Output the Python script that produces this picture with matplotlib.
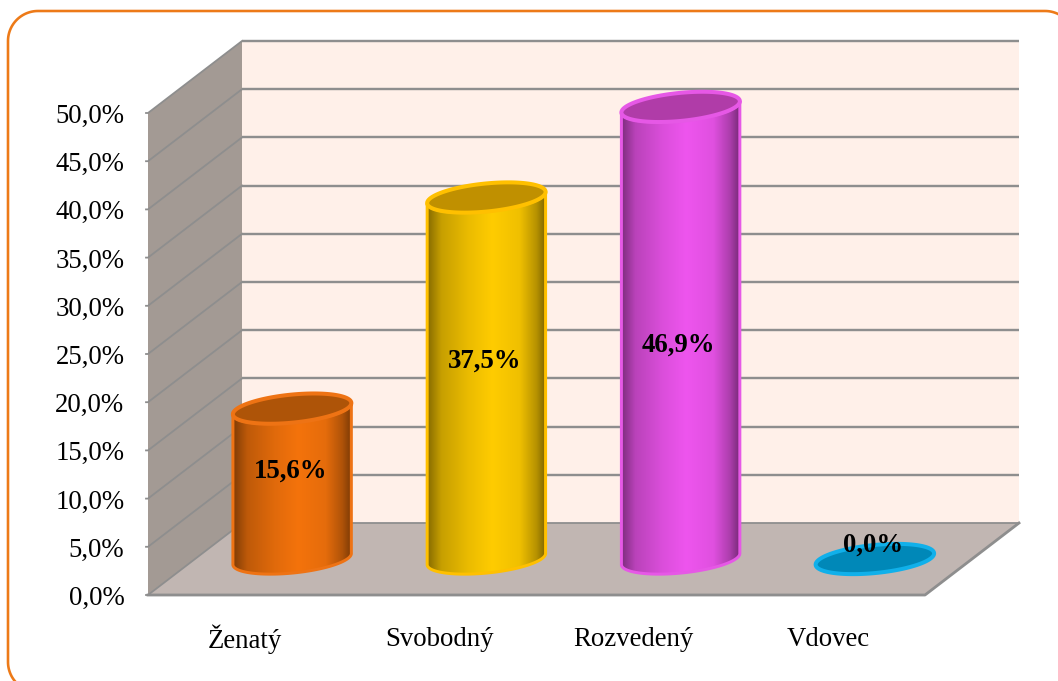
import numpy as np
import matplotlib
matplotlib.use('Agg')
import matplotlib.pyplot as plt
from matplotlib.colors import LinearSegmentedColormap, to_rgb
from matplotlib.patches import Polygon

categories = ['Ženatý', 'Svobodný', 'Rozvedený', 'Vdovec']
values = [15.6, 37.5, 46.9, 0.0]
value_labels = ['15,6%', '37,5%', '46,9%', '0,0%']
y_ticks = [0, 5, 10, 15, 20, 25, 30, 35, 40, 45, 50]
y_tick_labels = ['0,0%', '5,0%', '10,0%', '15,0%', '20,0%', '25,0%', '30,0%',
                 '35,0%', '40,0%', '45,0%', '50,0%']
body_colors = ['#F4730C', '#FFCC00', '#EE55EE', '#0088B8']
top_colors = ['#AE5408', '#C09000', '#B03CA8', '#0088B8']
edge_colors = ['#EE7314', '#FFC000', '#E658E6', '#10B0EA']

label_heights = [12.8, 24.3, 25.9, 5.2]

W, H = 1058, 681
X0, X1 = 148, 925
Y0, Y50 = 595, 113
PX_X = (X1 - X0) / len(categories)   # pixels per category
PX_Y = (Y0 - Y50) / 50.0             # pixels per percent
DEPTH_X = 94 / PX_X
DEPTH_Y = 72 / PX_Y

plt.rcParams['font.family'] = ['Liberation Serif', 'DejaVu Serif']

fig = plt.figure(figsize=(W / 100, H / 100), dpi=100)
ax = fig.add_axes([0, 0, 1, 1])
xlim = (-X0 / PX_X, (W - X0) / PX_X)
ylim = (-(H - Y0) / PX_Y, Y0 / PX_Y)
ax.axis('off')


def px(width):
    return width * 72 / 100


# orange frame, partly cut off by the image edge
t = np.linspace(0, np.pi / 2, 30)
r = 30
fx, fy = [], []
for cx, cy, start in [(1075 - r, 11 + r, 0), (8 + r, 11 + r, 1), (8 + r, 692 - r, 2), (1075 - r, 692 - r, 3)]:
    a = t + start * np.pi / 2
    fx.extend(cx + r * np.cos(a))
    fy.extend(cy - r * np.sin(a))
ax.add_patch(Polygon(np.column_stack([(np.array(fx) - X0) / PX_X, (Y0 - np.array(fy)) / PX_Y]),
                     closed=True, fill=False, edgecolor='#ED7A18', lw=px(2.6), zorder=1))

n = len(categories)
top = y_ticks[-1]

# walls and floor
ax.add_patch(Polygon([(DEPTH_X, DEPTH_Y), (n + DEPTH_X, DEPTH_Y), (n + DEPTH_X, top + DEPTH_Y), (DEPTH_X, top + DEPTH_Y)],
                     closed=True, facecolor='#FFF0E9', edgecolor='none', zorder=2))
ax.add_patch(Polygon([(0, 0), (DEPTH_X, DEPTH_Y), (DEPTH_X, top + DEPTH_Y), (0, top)],
                     closed=True, facecolor='#A39A94', edgecolor='none', zorder=2))
ax.add_patch(Polygon([(0, 0), (n, 0), (n + DEPTH_X, DEPTH_Y), (DEPTH_X, DEPTH_Y)],
                     closed=True, facecolor='#C1B6B2', edgecolor='none', zorder=2))

# gridlines
for v in y_ticks:
    lw = px(2.4) if v > 0 else px(1.8)
    ax.plot([DEPTH_X, n + DEPTH_X], [v + DEPTH_Y, v + DEPTH_Y], color='#8E8E8E', lw=lw, zorder=3, solid_capstyle='butt')
    ax.plot([-2 / PX_X, 0, DEPTH_X], [v, v, v + DEPTH_Y], color='#8E8E8E', lw=px(1.8), zorder=3)
ax.plot([0, n, n + DEPTH_X], [0, 0, DEPTH_Y], color='#8E8E8E', lw=px(2.8), zorder=3)

# cylinders
A, B, TILT = 59.5, 14.0, np.deg2rad(5.7)
FLOOR = 36 / PX_Y
DX = 47 / PX_X


def ellipse(cx, cy, t):
    ex = A * np.cos(t) * np.cos(TILT) - B * np.sin(t) * np.sin(TILT)
    ey = A * np.cos(t) * np.sin(TILT) + B * np.sin(t) * np.cos(TILT)
    return cx + ex / PX_X, cy + ey / PX_Y


def shade_cmap(color):
    rgb = np.array(to_rgb(color))
    stops = [(0, 0.52), (0.12, 0.78), (0.35, 0.92), (0.55, 1.0), (0.78, 0.94), (0.92, 0.72), (1, 0.5)]
    return LinearSegmentedColormap.from_list('s', [(p, tuple(rgb * m)) for p, m in stops])


full = np.linspace(0, 2 * np.pi, 200)
grad = np.linspace(0, 1, 256).reshape(1, -1)
for i, val in enumerate(values):
    cx = i + 0.5 + DX
    y_bot = FLOOR
    y_top = FLOOR + val
    if val > 0:
        lower = np.linspace(np.pi, 2 * np.pi, 100)
        bx, by = ellipse(cx, y_bot, lower)
        tx, ty = ellipse(cx, y_top, lower[::-1])
        outline = np.column_stack([np.r_[bx, tx], np.r_[by, ty]])
        im = ax.imshow(grad, extent=(cx - A / PX_X, cx + A / PX_X, y_bot - 20 / PX_Y, y_top + 20 / PX_Y),
                       cmap=shade_cmap(body_colors[i]), aspect='auto', zorder=4)
        ax.add_patch(Polygon(outline, closed=True, facecolor='none', edgecolor=edge_colors[i], lw=px(3), zorder=5))
        im.set_clip_path(Polygon(outline, closed=True, transform=ax.transData))
    ex, ey = ellipse(cx, y_top, full)
    ax.add_patch(Polygon(np.column_stack([ex, ey]), closed=True, facecolor=top_colors[i],
                         edgecolor=edge_colors[i], lw=px(4), zorder=6))
    ax.text(i + 0.5 + DX - 2 / PX_X, label_heights[i], value_labels[i], ha='center', va='center',
            fontsize=19.3, fontweight='bold', color='black', zorder=7)

# axis labels
for v, lab in zip(y_ticks, y_tick_labels):
    ax.text(-23.5 / PX_X, v - 3.5 / PX_Y, lab, ha='right', va='center', fontsize=19.3, color='black', zorder=7)
for i, lab in enumerate(categories):
    ax.text(i + 0.5, -44 / PX_Y, lab, ha='center', va='center', fontsize=19.3, color='black', zorder=7)

ax.set_xlim(*xlim)
ax.set_ylim(*ylim)
fig.savefig('out.png', dpi=100, facecolor='white')
